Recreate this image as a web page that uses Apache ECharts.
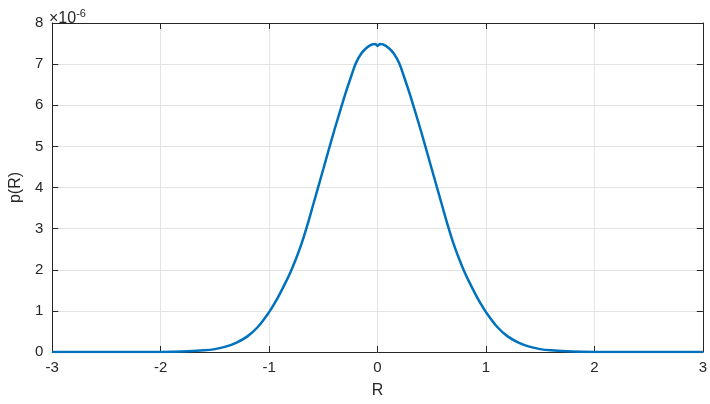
<!DOCTYPE html>
<html>
<head>
<meta charset="utf-8">
<script src="https://cdn.jsdelivr.net/npm/echarts@6/dist/echarts.min.js"></script>
<style>
  html, body { margin: 0; padding: 0; background: #fff; }
  #chart { width: 710px; height: 404px; }
</style>
</head>
<body>
<div id="chart"></div>
<script>
// R values and p(R) values (in units of 1e-6)
const rValues = [-3, -2.5, -2, -1.8, -1.6, -1.5, -1.4, -1.3, -1.2, -1.1, -1.0, -0.95, -0.9, -0.85, -0.8, -0.75, -0.7, -0.65, -0.6, -0.5, -0.4, -0.3, -0.25, -0.2, -0.15, -0.1, -0.05, -0.02, 0,
  0.02, 0.05, 0.1, 0.15, 0.2, 0.25, 0.3, 0.4, 0.5, 0.6, 0.65, 0.7, 0.75, 0.8, 0.85, 0.9, 0.95, 1.0, 1.1, 1.2, 1.3, 1.4, 1.5, 1.6, 1.8, 2, 2.5, 3]
const pValues = [0, 0, 0.002, 0.01, 0.04, 0.07, 0.13, 0.23, 0.38, 0.62, 0.97, 1.18, 1.42, 1.68, 1.96, 2.28, 2.64, 3.06, 3.52, 4.45, 5.38, 6.25, 6.65, 7.02, 7.26, 7.4, 7.48, 7.49, 7.44,
  7.49, 7.48, 7.4, 7.26, 7.02, 6.65, 6.25, 5.38, 4.45, 3.52, 3.06, 2.64, 2.28, 1.96, 1.68, 1.42, 1.18, 0.97, 0.62, 0.38, 0.23, 0.13, 0.07, 0.04, 0.01, 0.002, 0, 0]
const xTicks = [-3, -2, -1, 0, 1, 2, 3]
const yTicks = [0, 1, 2, 3, 4, 5, 6, 7, 8]

const axisColor = '#262626'
const font = 'Liberation Sans, Arial, sans-serif'

const chart = echarts.init(document.getElementById('chart'))
const points = rValues.map((r, i) => [r, pValues[i]])

chart.setOption({
  animation: false,
  title: {
    text: '×10{sup|-6}',
    left: 44,
    top: 3,
    textStyle: {
      fontFamily: font,
      fontSize: 16,
      fontWeight: 'normal',
      color: axisColor,
      rich: {
        sup: { fontFamily: font, fontSize: 11, color: axisColor, verticalAlign: 'top', padding: [0, 0, 10, 0] }
      }
    }
  },
  grid: { left: 43, right: 7, top: 23, bottom: 52 },
  xAxis: [
    {
      type: 'value',
      min: xTicks[0],
      max: xTicks[xTicks.length - 1],
      interval: 1,
      name: 'R',
      nameLocation: 'middle',
      nameGap: 31,
      nameTextStyle: { fontFamily: font, fontSize: 16, color: axisColor },
      axisLine: { onZero: false, lineStyle: { color: axisColor, width: 1 } },
      axisTick: { inside: true, length: 6, lineStyle: { color: axisColor } },
      axisLabel: { fontFamily: font, fontSize: 15, color: axisColor, margin: 8 },
      splitLine: { show: true, lineStyle: { color: '#e3e3e3', width: 1 } }
    },
    {
      type: 'value',
      position: 'top',
      min: xTicks[0],
      max: xTicks[xTicks.length - 1],
      interval: 1,
      axisLine: { onZero: false, lineStyle: { color: axisColor, width: 1 } },
      axisTick: { inside: true, length: 6, lineStyle: { color: axisColor } },
      axisLabel: { show: false },
      splitLine: { show: false }
    }
  ],
  yAxis: [
    {
      type: 'value',
      min: yTicks[0],
      max: yTicks[yTicks.length - 1],
      interval: 1,
      name: 'p(R)',
      nameLocation: 'middle',
      nameGap: 26,
      nameRotate: 90,
      nameTextStyle: { fontFamily: font, fontSize: 16, color: axisColor },
      axisLine: { show: true, onZero: false, lineStyle: { color: axisColor, width: 1 } },
      axisTick: { show: true, inside: true, length: 6, lineStyle: { color: axisColor } },
      axisLabel: { fontFamily: font, fontSize: 15, color: axisColor, margin: 9 },
      splitLine: { show: true, lineStyle: { color: '#e3e3e3', width: 1 } }
    },
    {
      type: 'value',
      position: 'right',
      min: yTicks[0],
      max: yTicks[yTicks.length - 1],
      interval: 1,
      axisLine: { show: true, onZero: false, lineStyle: { color: axisColor, width: 1 } },
      axisTick: { show: true, inside: true, length: 6, lineStyle: { color: axisColor } },
      axisLabel: { show: false },
      splitLine: { show: false }
    }
  ],
  series: [
    {
      name: 'p(R)',
      type: 'line',
      data: points,
      smooth: 0.3,
      showSymbol: false,
      lineStyle: { color: '#0072BD', width: 2.5 },
      itemStyle: { color: '#0072BD' },
      z: 5
    }
  ]
})
</script>
</body>
</html>
